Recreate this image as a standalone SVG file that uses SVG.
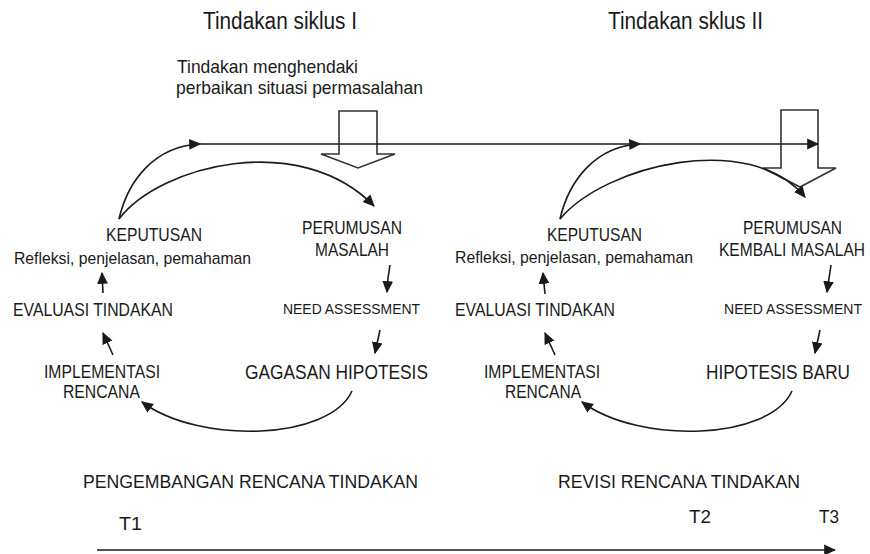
<svg xmlns="http://www.w3.org/2000/svg" width="870" height="554" viewBox="0 0 870 554">
<defs>
<style>
text{font-family:"Liberation Sans",Arial,sans-serif;fill:#1a1a1a}
.t17{font-size:18.5px}.t16{font-size:17px}.t14{font-size:15px}.t18{font-size:19px}.t20{font-size:21px}.t22{font-size:23px}
.ln{fill:none;stroke:#1a1a1a;stroke-width:1.6}
.blk{fill:none;stroke:#333;stroke-width:1.6;stroke-linejoin:miter}
</style>
<marker id="ah" viewBox="0 0 10 10" refX="9" refY="5" markerWidth="7.5" markerHeight="7.5" markerUnits="strokeWidth" orient="auto">
<path d="M0,0.5 L10,5 L0,9.5 z" fill="#1a1a1a"/>
</marker>
</defs>
<rect width="870" height="554" fill="#fff"/>

<g id="titles">
<text class="t22" x="203" y="29" textLength="154" lengthAdjust="spacingAndGlyphs">Tindakan siklus I</text>
<text class="t22" x="608" y="29" textLength="155" lengthAdjust="spacingAndGlyphs">Tindakan sklus II</text>
</g>
<g id="note">
<text class="t18" x="177" y="73" textLength="181" lengthAdjust="spacingAndGlyphs">Tindakan menghendaki</text>
<text class="t18" x="176" y="94" textLength="247" lengthAdjust="spacingAndGlyphs">perbaikan situasi permasalahan</text>
</g>
<g id="block1"><path class="blk" d="M339,111 L377,111 L377,154 L395,154 L358,168 L321,154 L339,154 Z"/></g>
<g id="block2"><path class="blk" d="M781,110 L818,110 L818,168 L836,168 L800,187 L763,168 L781,168 Z"/></g>

<g id="c1-keputusan">
<text class="t17" x="106" y="241" textLength="96" lengthAdjust="spacingAndGlyphs">KEPUTUSAN</text>
<text class="t16" x="14" y="264" textLength="237" lengthAdjust="spacingAndGlyphs">Refleksi, penjelasan, pemahaman</text>
</g>
<g id="c1-evaluasi"><text class="t17" x="13" y="316" textLength="160" lengthAdjust="spacingAndGlyphs">EVALUASI TINDAKAN</text></g>
<g id="c1-implementasi">
<text class="t17" x="44" y="378" textLength="116" lengthAdjust="spacingAndGlyphs">IMPLEMENTASI</text>
<text class="t17" x="63" y="398" textLength="77" lengthAdjust="spacingAndGlyphs">RENCANA</text>
</g>
<g id="c1-perumusan">
<text class="t17" x="302" y="234" textLength="100" lengthAdjust="spacingAndGlyphs">PERUMUSAN</text>
<text class="t17" x="315" y="256" textLength="74" lengthAdjust="spacingAndGlyphs">MASALAH</text>
</g>
<g id="c1-need"><text class="t14" x="283" y="314" textLength="137" lengthAdjust="spacingAndGlyphs">NEED ASSESSMENT</text></g>
<g id="c1-hipotesis"><text class="t20" x="245" y="379" textLength="183" lengthAdjust="spacingAndGlyphs">GAGASAN HIPOTESIS</text></g>

<g id="c2-keputusan">
<text class="t17" x="547" y="241" textLength="95" lengthAdjust="spacingAndGlyphs">KEPUTUSAN</text>
<text class="t16" x="455" y="263" textLength="238" lengthAdjust="spacingAndGlyphs">Refleksi, penjelasan, pemahaman</text>
</g>
<g id="c2-evaluasi"><text class="t17" x="455" y="316" textLength="160" lengthAdjust="spacingAndGlyphs">EVALUASI TINDAKAN</text></g>
<g id="c2-implementasi">
<text class="t17" x="484" y="378" textLength="116" lengthAdjust="spacingAndGlyphs">IMPLEMENTASI</text>
<text class="t17" x="505" y="398" textLength="76" lengthAdjust="spacingAndGlyphs">RENCANA</text>
</g>
<g id="c2-perumusan">
<text class="t17" x="743" y="234" textLength="99" lengthAdjust="spacingAndGlyphs">PERUMUSAN</text>
<text class="t17" x="719" y="256" textLength="146" lengthAdjust="spacingAndGlyphs">KEMBALI MASALAH</text>
</g>
<g id="c2-need"><text class="t14" x="724" y="314" textLength="138" lengthAdjust="spacingAndGlyphs">NEED ASSESSMENT</text></g>
<g id="c2-hipotesis"><text class="t20" x="706" y="379" textLength="144" lengthAdjust="spacingAndGlyphs">HIPOTESIS BARU</text></g>

<g id="timeline-labels">
<text class="t17" x="83" y="488" textLength="335" lengthAdjust="spacingAndGlyphs">PENGEMBANGAN RENCANA TINDAKAN</text>
<text class="t17" x="558" y="488" textLength="242" lengthAdjust="spacingAndGlyphs">REVISI RENCANA TINDAKAN</text>
<text class="t17" x="119" y="530" textLength="23" lengthAdjust="spacingAndGlyphs">T1</text>
<text class="t17" x="689" y="523" textLength="22" lengthAdjust="spacingAndGlyphs">T2</text>
<text class="t17" x="819" y="523" textLength="20" lengthAdjust="spacingAndGlyphs">T3</text>
</g>

<g id="connectors">
<path class="ln" d="M200,144 L818,144" marker-end="url(#ah)"/>
<path class="ln" d="M119,219 C128,180 155,146 200,144" marker-end="url(#ah)"/>
<path class="ln" d="M119,219 C160,165 300,130 374,206" marker-end="url(#ah)"/>
<path class="ln" d="M560,219 C569,180 596,146 640,144" marker-end="url(#ah)"/>
<path class="ln" d="M560,219 C605,165 750,130 805,197" marker-end="url(#ah)"/>
<path class="ln" d="M390,265 L388,278 L387,292" marker-end="url(#ah)"/>
<path class="ln" d="M380,330 L375,353" marker-end="url(#ah)"/>
<path class="ln" d="M352,391 C330,440 200,445 142,402" marker-end="url(#ah)"/>
<path class="ln" d="M113,355 L103,333" marker-end="url(#ah)"/>
<path class="ln" d="M103,293 L102,273" marker-end="url(#ah)"/>
<path class="ln" d="M831,265 L827,292" marker-end="url(#ah)"/>
<path class="ln" d="M820,330 L815,353" marker-end="url(#ah)"/>
<path class="ln" d="M792,391 C770,440 640,445 582,402" marker-end="url(#ah)"/>
<path class="ln" d="M555,355 L545,333" marker-end="url(#ah)"/>
<path class="ln" d="M545,294 L543,273" marker-end="url(#ah)"/>
<path class="ln" d="M97,550 L835,550" marker-end="url(#ah)"/>
</g>
</svg>
